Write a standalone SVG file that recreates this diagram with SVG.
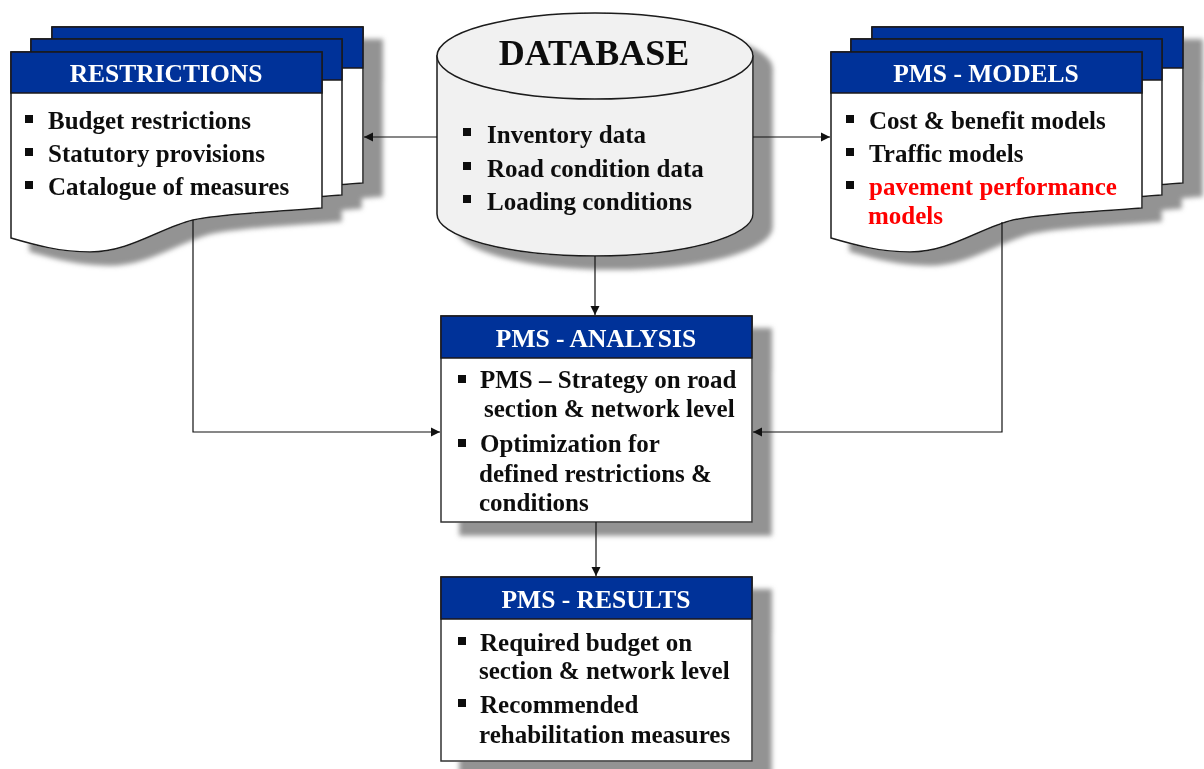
<svg xmlns="http://www.w3.org/2000/svg" width="1204" height="769" viewBox="0 0 1204 769">
<style>
.card{fill:#fff;stroke:#1a1a1a;stroke-width:1.5}
.hdr{fill:#003399;stroke:#1a1a1a;stroke-width:1.5}
.ttl{font-family:"Liberation Serif","Times New Roman",serif;font-weight:bold;font-size:25.5px;fill:#fff;text-anchor:middle}
.itm{font-family:"Liberation Serif","Times New Roman",serif;font-weight:bold;font-size:25px;fill:#111}
.red{fill:#ff0000}
.bul{fill:#111}
.box{fill:#fff;stroke:#333;stroke-width:1.5}
.con{fill:none;stroke:#111;stroke-width:1.2}
</style>
<defs>
<filter id="sh" x="-10%" y="-10%" width="130%" height="130%">
<feGaussianBlur in="SourceAlpha" stdDeviation="2.5"/>
<feOffset dx="19" dy="13" result="b"/>
<feFlood flood-color="#939393"/>
<feComposite in2="b" operator="in"/>
<feMerge><feMergeNode/><feMergeNode in="SourceGraphic"/></feMerge>
</filter>
<path id="doc" d="M0,0 H311 V156 C259,160 209,162 182,168 C149,176 119,200 79,200 C49,200 24,193 0,186 Z"/>
<marker id="ar" markerUnits="userSpaceOnUse" markerWidth="10" markerHeight="10" refX="9" refY="5" orient="auto">
<path d="M0,0.5 L9,5 L0,9.5 Z" fill="#111"/>
</marker>
</defs>

<g id="restrictions" filter="url(#sh)">
<g transform="translate(52,27)"><use href="#doc" class="card"/><rect class="hdr" x="0" y="0" width="311" height="41"/></g>
<g transform="translate(31,39)"><use href="#doc" class="card"/><rect class="hdr" x="0" y="0" width="311" height="41"/></g>
<g transform="translate(11,52)"><use href="#doc" class="card"/><rect class="hdr" x="0" y="0" width="311" height="41"/></g>
<text class="ttl" x="166" y="82">RESTRICTIONS</text>
<rect class="bul" x="25" y="115" width="8" height="8"/>
<text class="itm" x="48" y="129">Budget restrictions</text>
<rect class="bul" x="25" y="148" width="8" height="8"/>
<text class="itm" x="48" y="162">Statutory provisions</text>
<rect class="bul" x="25" y="181" width="8" height="8"/>
<text class="itm" x="48" y="195">Catalogue of measures</text>
</g>

<g id="models" filter="url(#sh)">
<g transform="translate(872,27)"><use href="#doc" class="card"/><rect class="hdr" x="0" y="0" width="311" height="41"/></g>
<g transform="translate(851,39)"><use href="#doc" class="card"/><rect class="hdr" x="0" y="0" width="311" height="41"/></g>
<g transform="translate(831,52)"><use href="#doc" class="card"/><rect class="hdr" x="0" y="0" width="311" height="41"/></g>
<text class="ttl" x="986" y="82">PMS - MODELS</text>
<rect class="bul" x="846" y="115" width="8" height="8"/>
<text class="itm" x="869" y="129">Cost &amp; benefit models</text>
<rect class="bul" x="846" y="148" width="8" height="8"/>
<text class="itm" x="869" y="162">Traffic models</text>
<rect class="bul" x="846" y="181" width="8" height="8"/>
<text class="itm red" x="869" y="195">pavement performance</text>
<text class="itm red" x="868" y="224">models</text>
</g>

<g id="database" filter="url(#sh)">
<path d="M437,56 V214 A158,42 0 0 0 753,214 V56 Z" fill="#f1f1f1" stroke="#1a1a1a" stroke-width="1.5"/>
<ellipse cx="595" cy="56" rx="158" ry="43" fill="#f1f1f1" stroke="#1a1a1a" stroke-width="1.5"/>
<text x="594" y="65" text-anchor="middle" font-family="Liberation Serif, Times New Roman, serif" font-weight="bold" font-size="36" fill="#111">DATABASE</text>
<rect class="bul" x="463" y="128" width="8" height="8"/>
<text class="itm" x="487" y="143">Inventory data</text>
<rect class="bul" x="463" y="162" width="8" height="8"/>
<text class="itm" x="487" y="177">Road condition data</text>
<rect class="bul" x="463" y="195" width="8" height="8"/>
<text class="itm" x="487" y="210">Loading conditions</text>
</g>

<g id="analysis" filter="url(#sh)">
<rect class="box" x="441" y="316" width="311" height="206"/>
<rect class="hdr" x="441" y="316" width="311" height="42"/>
<text class="ttl" x="596" y="347">PMS - ANALYSIS</text>
<rect class="bul" x="458" y="375" width="8" height="8"/>
<text class="itm" x="480" y="388">PMS – Strategy on road</text>
<text class="itm" x="484" y="417">section  &amp; network level</text>
<rect class="bul" x="458" y="439" width="8" height="8"/>
<text class="itm" x="480" y="452">Optimization for</text>
<text class="itm" x="479" y="482">defined restrictions &amp;</text>
<text class="itm" x="479" y="511">conditions</text>
</g>

<g id="results" filter="url(#sh)">
<rect class="box" x="441" y="577" width="311" height="184"/>
<rect class="hdr" x="441" y="577" width="311" height="42"/>
<text class="ttl" x="596" y="608">PMS - RESULTS</text>
<rect class="bul" x="458" y="637" width="8" height="8"/>
<text class="itm" x="480" y="651">Required budget on</text>
<text class="itm" x="479" y="679">section &amp; network level</text>
<rect class="bul" x="458" y="699" width="8" height="8"/>
<text class="itm" x="480" y="713">Recommended</text>
<text class="itm" x="479" y="743">rehabilitation measures</text>
</g>

<g id="connectors">
<line class="con" x1="437" y1="137" x2="364" y2="137" marker-end="url(#ar)"/>
<line class="con" x1="753" y1="137" x2="830" y2="137" marker-end="url(#ar)"/>
<line class="con" x1="595" y1="256" x2="595" y2="315" marker-end="url(#ar)"/>
<polyline class="con" points="193,220 193,432 440,432" marker-end="url(#ar)"/>
<polyline class="con" points="1002,222 1002,432 753,432" marker-end="url(#ar)"/>
<line class="con" x1="596" y1="522" x2="596" y2="576" marker-end="url(#ar)"/>
</g>
</svg>
